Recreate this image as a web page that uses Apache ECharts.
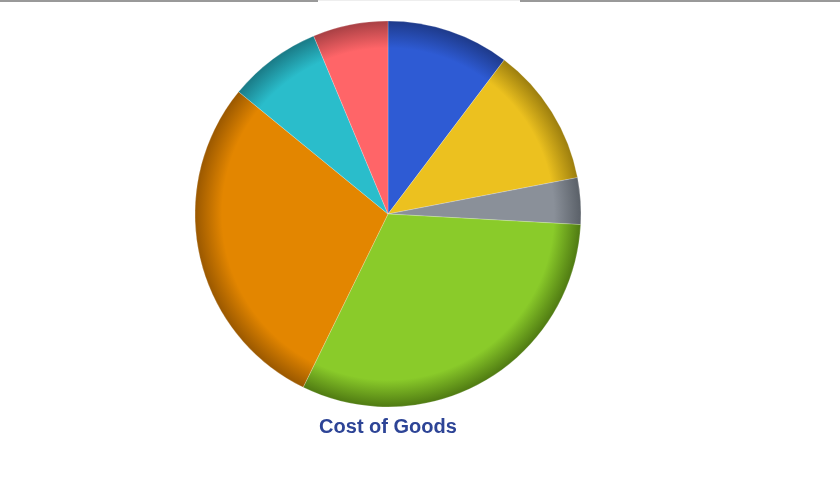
<!DOCTYPE html>
<html><head><meta charset="utf-8">
<script src="https://cdn.jsdelivr.net/npm/echarts@6/dist/echarts.min.js"></script>
<style>html,body{margin:0;padding:0;background:#fff}#c{width:840px;height:491px}</style>
</head><body><div id="c"></div>
<script>
const title = 'Cost of Goods';
const categories = ['A','B','C','D','E','F','G'];
const values = [10.3, 11.7, 3.9, 31.4, 28.7, 7.8, 6.3];
const baseColors = ['#2E5BD4','#ECC11F','#8A9099','#8ACB2A','#E38600','#2ABDCB','#FF6568'];
const darkColors = ['#1E3A8A','#9C7E0E','#5A6068','#4F7A12','#9A5800','#1A7A86','#A84044'];
const cx = 388, cy = 214, R = 193;
const chart = echarts.init(document.getElementById('c'), null, {renderer:'canvas'});
chart.setOption({
  animation:false,
  backgroundColor:'#fff',
  graphic:[
    {type:'rect',shape:{x:0,y:0,width:318,height:2},style:{fill:'#999'}},
    {type:'rect',shape:{x:318,y:0,width:202,height:1},style:{fill:'#eee'}},
    {type:'rect',shape:{x:520,y:0,width:320,height:2},style:{fill:'#999'}},
    {type:'text',x:388,y:427,style:{text:title,textAlign:'center',textVerticalAlign:'middle',
      font:'bold 20px "Liberation Sans", Arial, sans-serif',fill:'#2D4496'}}
  ],
  series:[{
    type:'pie',center:[cx,cy],radius:R,startAngle:90,clockwise:true,
    label:{show:false},labelLine:{show:false},
    emphasis:{disabled:true},
    data:categories.map((c,i)=>({name:c,value:values[i],itemStyle:{
      borderColor:'rgba(255,255,255,0.35)',borderWidth:0.6,
      color:{type:'radial',x:cx,y:cy,r:R,global:true,colorStops:[
        {offset:0,color:baseColors[i]},{offset:0.86,color:baseColors[i]},{offset:1,color:darkColors[i]}]}}}))
  }]
});
</script></body></html>
